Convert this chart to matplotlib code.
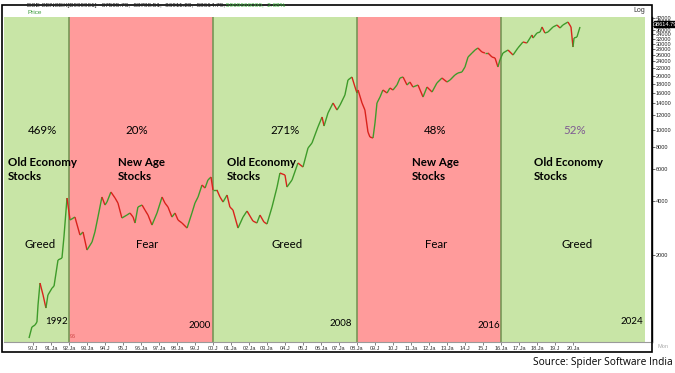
import matplotlib
matplotlib.use("Agg")
import matplotlib.pyplot as plt
from matplotlib.collections import LineCollection
from matplotlib.patches import Rectangle
from matplotlib.ticker import FixedLocator, FixedFormatter, NullLocator
import numpy as np

# ---------------- data ----------------
dates = [1989.78, 1989.94, 1990.11, 1990.22, 1990.28, 1990.39, 1990.56, 1990.72, 1990.83, 1991.06,
         1991.17, 1991.39, 1991.61, 1991.72, 1991.89, 1992.06, 1992.33, 1992.61, 1992.78, 1993.0,
         1993.28, 1993.44, 1993.61, 1993.83, 1994.0, 1994.11, 1994.33, 1994.56, 1994.72, 1994.94,
         1995.22, 1995.39, 1995.56, 1995.67, 1995.83, 1996.06, 1996.22, 1996.39, 1996.61, 1996.89,
         1997.17, 1997.33, 1997.5, 1997.72, 1997.89, 1998.06, 1998.28, 1998.56, 1998.83, 1999.0,
         1999.17, 1999.39, 1999.56, 1999.72, 1999.89, 2000.0, 2000.22, 2000.39, 2000.56, 2000.78,
         2000.94, 2001.11, 2001.39, 2001.67, 2001.89, 2002.22, 2002.44, 2002.61, 2002.83, 2003.0,
         2003.28, 2003.56, 2003.72, 2004.0, 2004.11, 2004.39, 2004.72, 2005.0, 2005.28, 2005.5,
         2005.83, 2006.06, 2006.17, 2006.39, 2006.67, 2006.89, 2007.06, 2007.33, 2007.5, 2007.72,
         2007.89, 2008.0, 2008.06, 2008.28, 2008.44, 2008.61, 2008.72, 2008.89, 2009.0, 2009.11,
         2009.28, 2009.44, 2009.67, 2009.83, 2010.0, 2010.22, 2010.39, 2010.56, 2010.78, 2010.94,
         2011.11, 2011.39, 2011.67, 2011.89, 2012.17, 2012.44, 2012.72, 2013.0, 2013.17, 2013.44,
         2013.61, 2013.83, 2014.0, 2014.17, 2014.39, 2014.56, 2014.72, 2014.94, 2015.11, 2015.28,
         2015.5, 2015.67, 2015.83, 2015.94, 2016.11, 2016.39, 2016.67, 2016.94, 2017.22, 2017.44,
         2017.72, 2017.78, 2018.0, 2018.17, 2018.28, 2018.44, 2018.61, 2018.89, 2019.11, 2019.28,
         2019.44, 2019.72, 2019.89, 2020.0, 2020.06, 2020.22, 2020.39]
sensex = [689, 794, 814, 846, 1053, 1396, 1197, 1013, 1197, 1309,
          1343, 1876, 1924, 2520, 4157, 3134, 3257, 2585, 2687, 2133,
          2363, 2687, 3257, 4211, 3800, 3949, 4490, 4157, 3899, 3216,
          3342, 3429, 3257, 3016, 3704, 3800, 3564, 3342, 2939, 3429,
          4211, 3899, 3704, 3257, 3429, 3134, 3016, 2828, 3429, 3899,
          4211, 4912, 4726, 5237, 5443, 4607, 4607, 4211, 3949, 4320,
          3704, 3564, 2828, 3257, 3518, 3094, 3016, 3342, 3055, 2978,
          3704, 4787, 5730, 5585, 4787, 5237, 6515, 6189, 7898, 8421,
          10341, 11758, 10475, 12378, 14073, 12863, 13716, 15596, 18905, 19647,
          17279, 16000, 16628, 14073, 12863, 9699, 9095, 8980, 10886, 14073,
          15199, 16628, 16000, 17059, 16628, 17731, 19398, 19647, 17731, 18427,
          17279, 17731, 15199, 17279, 16207, 18192, 19398, 18427, 18905, 20159,
          20684, 20950, 22342, 25398, 26732, 27784, 28508, 27080, 26732, 26732,
          25398, 25076, 22342, 24440, 26732, 27784, 26059, 28508, 30790, 30396,
          33684, 32412, 34560, 35006, 37330, 34560, 35006, 37330, 38302, 36856,
          38302, 39800, 37330, 28876, 32412, 32832, 37330]

region_start = [1988.39, 1992, 2000, 2008, 2016]
region_end = [1992, 2000, 2008, 2016, 2024]
region_kind = ["greed", "fear", "greed", "fear", "greed"]
region_return = ["469%", "20%", "271%", "48%", "52%"]
region_theme = ["Old Economy\nStocks", "New Age\nStocks", "Old Economy\nStocks",
                "New Age\nStocks", "Old Economy\nStocks"]
region_mood = ["Greed", "Fear", "Greed", "Fear", "Greed"]
region_year = ["1992", "2000", "2008", "2016", "2024"]

year_ticks = list(range(1990, 2021))
year_labels = ["90.J", "91.Ja", "92.Ja", "93.Ja", "94.J", "95.J", "96.Ja", "97.Ja", "98.Ja", "99.J",
               "00.J", "01.Ja", "02.Ja", "03.Ja", "04.J", "05.J", "06.Ja", "07.Ja", "08.Ja", "09.J",
               "10.J", "11.Ja", "12.Ja", "13.Ja", "14.J", "15.J", "16.Ja", "17.Ja", "18.Ja", "19.J",
               "20.Ja"]
price_ticks = list(range(2000, 42001, 2000))
last_price = 38614.79

# ---------------- figure ----------------
W, H = 675, 373
fig = plt.figure(figsize=(W / 100, H / 100), dpi=100)
fig.patch.set_facecolor("white")

def fx(x):
    return x / W

def fy(y):
    return 1 - y / H

ax_l, ax_r, ax_t, ax_b = 4, 652, 17, 342
ax = fig.add_axes([fx(ax_l), fy(ax_b), fx(ax_r - ax_l), (ax_b - ax_t) / H])
ax.set_yscale("log")
ax.set_xlim(1988.39, 2024.39)
ax.set_ylim(655, 42440)

GREEN = "#c8e5a6"
RED = "#ff9b9b"
for s, e, k in zip(region_start, region_end, region_kind):
    ax.axvspan(s, e, color=GREEN if k == "greed" else RED, lw=0, zorder=0)
for b in region_start[1:]:
    ax.axvline(b, color="#6e9250", lw=1.1, zorder=1)

# price line, colored by direction
pts = np.column_stack([dates, sensex])
segs = np.stack([pts[:-1], pts[1:]], axis=1)
cols = ["#3e9b2a" if sensex[i + 1] >= sensex[i] else "#d9221c" for i in range(len(sensex) - 1)]
lc = LineCollection(segs, colors=cols, linewidths=1.0, zorder=3)
ax.add_collection(lc)

# axes styling
for sp in ["top", "left"]:
    ax.spines[sp].set_visible(False)
ax.spines["bottom"].set_color("#9a9a9a")
ax.spines["bottom"].set_linewidth(0.8)
ax.spines["right"].set_color("black")
ax.spines["right"].set_linewidth(1.0)

ax.yaxis.tick_right()
ax.yaxis.set_major_locator(FixedLocator(price_ticks))
ax.yaxis.set_major_formatter(FixedFormatter([str(v) for v in price_ticks]))
ax.yaxis.set_minor_locator(NullLocator())
ax.tick_params(axis="y", which="major", length=2, width=0.5, pad=0.5,
               labelsize=4, labelcolor="#222222", colors="#333333")
for t in ax.get_yticklabels():
    t.set_fontfamily("Liberation Sans")

ax.xaxis.set_major_locator(FixedLocator(year_ticks))
ax.xaxis.set_major_formatter(FixedFormatter(year_labels))
ax.xaxis.set_minor_locator(NullLocator())
ax.tick_params(axis="x", which="major", length=2, width=0.5, pad=1,
               labelsize=4, labelcolor="#333333", colors="#555555")
for t in ax.get_xticklabels():
    t.set_fontfamily("Liberation Sans")

# last price marker
ax.annotate(f"{last_price:.2f}", xy=(1, last_price), xycoords=("axes fraction", "data"),
            xytext=(1.5, 0), textcoords="offset points", va="center", ha="left",
            fontsize=4, color="white", family="Liberation Sans",
            bbox=dict(boxstyle="square,pad=0.1", fc="black", ec="black"), zorder=10,
            annotation_clip=False)

# outer frame
fig.add_artist(Rectangle((fx(1.5), fy(352)), fx(652 - 1.5), (352 - 5) / H,
                         transform=fig.transFigure, fill=False, ec="black", lw=1.2))

# header
fig.text(fx(27), fy(5), "BSE SENSEX[B999901]   37595.73,  38788.51,  36911.23,  38614.79,",
         fontsize=4.6, family="Liberation Sans", color="#222222", va="center", ha="left")
fig.text(fx(226), fy(5), "5969666000,  2.68%", fontsize=4.6, family="Liberation Sans",
         color="#3ab03a", va="center", ha="left")
fig.text(fx(27), fy(12), "Price", fontsize=4.6, family="Liberation Sans",
         color="#3a9a3a", va="center", ha="left")
fig.text(fx(645), fy(11), "Log", fontsize=5, family="Liberation Sans",
         color="#333333", va="center", ha="right")
fig.text(fx(663), fy(346), "Mon", fontsize=4, family="Liberation Sans",
         color="#aaaaaa", va="center", ha="center")
fig.text(fx(70), fy(337), "96", fontsize=4, family="Liberation Sans",
         color="#cc4444", va="center", ha="left")

# annotations
ret_x = [42, 137, 285, 435, 575]
theme_x = [8, 118, 227, 412, 534]
mood_x = [40, 147, 287, 436, 577]
year_x = [68, 211, 352, 500, 643]
year_y = [322, 325, 324, 325, 322]
for i in range(5):
    fig.text(fx(ret_x[i]), fy(130), region_return[i], fontsize=8.3, family="Lato",
             color="#7e5a92" if i == 4 else "black", ha="center", va="center")
    fig.text(fx(theme_x[i]), fy(169.5), region_theme[i], fontsize=8.3, family="Lato",
             fontweight="bold", color="black", ha="left", va="center", linespacing=1.35)
    fig.text(fx(mood_x[i]), fy(244), region_mood[i], fontsize=8.3, family="Lato",
             color="black", ha="center", va="center")
    fig.text(fx(year_x[i]), fy(year_y[i]), region_year[i], fontsize=7, family="Lato",
             color="black", ha="right", va="center")

fig.text(fx(673), fy(363), "Source: Spider Software India", fontsize=7.3,
         family="Open Sans", color="black", ha="right", va="center")

fig.savefig("out.png", dpi=100, facecolor="white")
